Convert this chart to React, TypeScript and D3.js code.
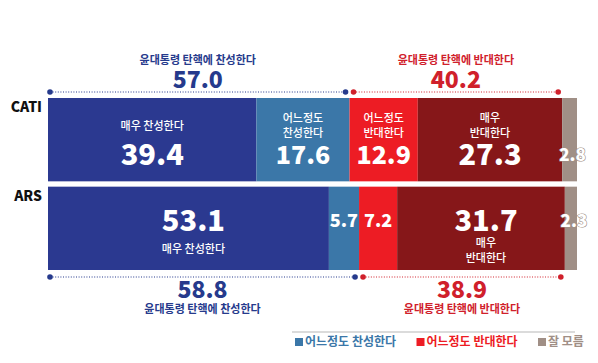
import { useEffect, useRef } from 'react';
import * as d3 from 'd3';

// survey methods (rows) and answer categories (stacked segments)
const methods = ['CATI', 'ARS'];
const answers = ['매우 찬성한다', '어느정도 찬성한다', '어느정도 반대한다', '매우 반대한다', '잘 모름'];
const catiValues = [39.4, 17.6, 12.9, 27.3, 2.8];
const arsValues = [53.1, 5.7, 7.2, 31.7, 2.3];
const supportTotals = [57.0, 58.8];
const opposeTotals = [40.2, 38.9];
const supportTitle = '윤대통령 탄핵에 찬성한다';
const opposeTitle = '윤대통령 탄핵에 반대한다';
const legendItems = ['어느정도 찬성한다', '어느정도 반대한다', '잘 모름'];

const colors = ['#2b3990', '#3b77a8', '#ed1c24', '#861719', '#a08f86'];
const legendColors = ['#3b77a8', '#ed1c24', '#a08f86'];
const blue = '#263a8c';
const red = '#d0202b';
const FONT = '"Noto Sans CJK KR", "Noto Sans", sans-serif';

export default function App() {
  const svgRef = useRef<SVGSVGElement>(null);

  useEffect(() => {
    document.body.style.margin = '0';
    if (!svgRef.current) return;
    const svg = d3.select(svgRef.current);
    svg.selectAll('*').remove();

    const x = d3.scaleLinear().domain([0, 100]).range([48, 577]);
    const y = d3.scaleBand().domain(methods).range([98, 270]).paddingInner(0.06);
    const rows = [catiValues, arsValues];
    const g = svg.append('g').style('font-family', FONT);

    const addText = (tx: number, ty: number, str: string, size: number, weight: number, fill: string) =>
      g.append('text')
        .attr('x', tx)
        .attr('y', ty)
        .attr('dy', '0.35em')
        .attr('text-anchor', 'middle')
        .attr('font-size', size)
        .attr('font-weight', weight)
        .attr('fill', fill)
        .text(str);

    rows.forEach((vals, ri) => {
      const m = methods[ri];
      const top = y(m)!;
      const h = y.bandwidth();
      let acc = 0;
      const segs = vals.map((v, i) => {
        const s = { i, v, x0: acc, x1: acc + v };
        acc += v;
        return s;
      });

      g.selectAll(`rect.r${ri}`)
        .data(segs)
        .enter()
        .append('rect')
        .attr('x', d => x(d.x0))
        .attr('y', top)
        .attr('width', d => x(d.x1) - x(d.x0))
        .attr('height', h)
        .attr('fill', d => colors[d.i]);

      // row label
      g.append('text')
        .attr('x', 42)
        .attr('y', top + 14)
        .attr('text-anchor', 'end')
        .attr('font-size', 14)
        .attr('font-weight', 900)
        .attr('fill', '#111')
        .text(m);

      segs.forEach(s => {
        const w = x(s.x1) - x(s.x0);
        // ARS big numbers sit a little right of centre in the original
        const cx = (x(s.x0) + x(s.x1)) / 2 + (ri === 1 && w > 100 ? 5 : 0);
        const label = answers[s.i];
        const lines = w < 180 ? label.split(/ (?=[^ ]+$)/) : [label];
        const numY = ri === 0 ? top + 57 : top + 34;
        if (s.i === 4) {
          addText(cx + 3, numY, s.v.toFixed(1), 17, 900, '#fff')
            .attr('stroke', '#a08f86')
            .attr('stroke-width', 1.2)
            .attr('paint-order', 'stroke');
          return;
        }
        const size = w < 50 ? 18 : ri === 0 && w < 100 ? 25 : 29;
        addText(cx, numY, s.v.toFixed(1), size, 900, '#fff');
        if (ri === 0) {
          const ys = lines.length === 1 ? [top + 28] : [top + 20, top + 35];
          lines.forEach((l, k) => addText(cx, ys[k], l, 11, 500, '#fff'));
        } else if (w > 60) {
          const ys = lines.length === 1 ? [top + 62] : [top + 56, top + 71];
          lines.forEach((l, k) => addText(cx, ys[k], l, 11, 500, '#fff'));
        }
      });

      // dotted bracket lines with totals
      const lineY = ri === 0 ? top - 6 : top + h + 7;
      const sup = vals[0] + vals[1];
      const opp = vals[2] + vals[3];
      const brackets = [
        { a: x(0) + 2, b: x(sup) - 4, c: blue, total: supportTotals[ri], title: supportTitle },
        { a: x(sup) + 4, b: x(sup + opp) - 4, c: red, total: opposeTotals[ri], title: opposeTitle },
      ];
      brackets.forEach(br => {
        g.append('line')
          .attr('x1', br.a)
          .attr('x2', br.b)
          .attr('y1', lineY)
          .attr('y2', lineY)
          .attr('stroke', br.c)
          .attr('stroke-width', 1.2)
          .attr('stroke-dasharray', '1,1.6');
        [br.a, br.b].forEach(px =>
          g.append('circle').attr('cx', px).attr('cy', lineY).attr('r', 2.8).attr('fill', br.c)
        );
        const mid = (br.a + br.b) / 2;
        const numY = ri === 0 ? lineY - 4 : lineY + 21;
        const titleY = ri === 0 ? lineY - 32 : lineY + 32;
        g.append('text')
          .attr('x', mid)
          .attr('y', numY)
          .attr('text-anchor', 'middle')
          .attr('font-size', 23)
          .attr('font-weight', 900)
          .attr('fill', br.c)
          .text(br.total.toFixed(1));
        addText(mid, titleY, br.title, 11, 700, br.c);
      });
    });

    // legend
    g.append('line')
      .attr('x1', 292)
      .attr('x2', 575)
      .attr('y1', 332)
      .attr('y2', 332)
      .attr('stroke', '#cfcfcf')
      .attr('stroke-width', 1.5);
    const legendX = d3.scalePoint().domain(legendItems).range([295, 538]);
    legendItems.forEach((item, i) => {
      const lx = legendX(item)!;
      g.append('rect')
        .attr('x', lx)
        .attr('y', 338)
        .attr('width', 8)
        .attr('height', 8)
        .attr('fill', legendColors[i]);
      g.append('text')
        .attr('x', lx + 10)
        .attr('y', 342)
        .attr('dy', '0.35em')
        .attr('font-size', 12)
        .attr('font-weight', 700)
        .attr('fill', legendColors[i])
        .text(item);
    });
  }, []);

  return <svg ref={svgRef} width={598} height={363} style={{ display: 'block', background: '#fff' }} />;
}
